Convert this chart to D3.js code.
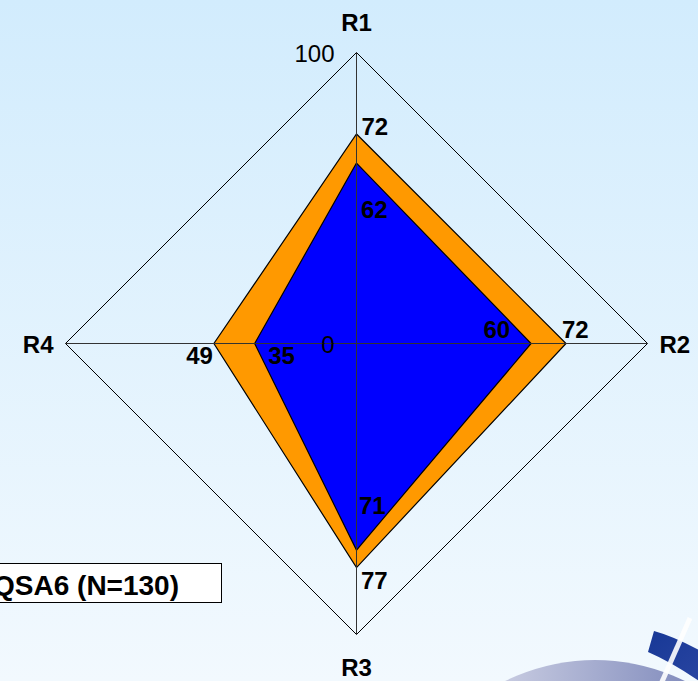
<!DOCTYPE html>
<html>
<head>
<meta charset="utf-8">
<script src="https://cdn.jsdelivr.net/npm/d3@7"></script>
<style>
  html, body { margin: 0; padding: 0; overflow: hidden; }
  svg { display: block; }
</style>
</head>
<body>
<svg id="chart" width="698" height="681"></svg>
<script>
// Radar axes, scale ticks and the two profiles
const axes = ["R1", "R2", "R3", "R4"];
const scaleTicks = [0, 100];
const seriesOuter = [72, 72, 77, 49];   // orange profile
const seriesInner = [62, 60, 71, 35];   // blue profile
const caption = "QSA6 (N=130)";

// Layout
const W = 698, H = 681;
const cx = 356.5, cy = 343.5, R = 291;
const fontFamily = "'Liberation Sans', Arial, Helvetica, sans-serif";

// Label placement per axis: [dx, dy, anchor] from the data point
const outerLabelPos = [[5, 1.5, "start"], [-4, -5.5, "start"], [4.5, 21.5, "start"], [-1, 20.5, "end"]];
const innerLabelPos = [[4.5, 55, "start"], [-21, -5.5, "end"], [2.5, -36, "start"], [13.5, 20.5, "start"]];

const svg = d3.select("#chart");
const defs = svg.append("defs");

const bg = defs.append("linearGradient").attr("id", "bg").attr("x1", 0).attr("y1", 0).attr("x2", 0).attr("y2", 1);
bg.append("stop").attr("offset", "0%").attr("stop-color", "#d2ecfd");
bg.append("stop").attr("offset", "100%").attr("stop-color", "#f2f9fe");

const disc = defs.append("linearGradient").attr("id", "disc").attr("x1", 0).attr("y1", 0).attr("x2", 1).attr("y2", 0);
disc.append("stop").attr("offset", "0%").attr("stop-color", "#f0f0f6");
disc.append("stop").attr("offset", "100%").attr("stop-color", "#5a68a8");

const band = defs.append("linearGradient").attr("id", "band").attr("x1", 0).attr("y1", 0).attr("x2", 1).attr("y2", 1);
band.append("stop").attr("offset", "0%").attr("stop-color", "#173896");
band.append("stop").attr("offset", "100%").attr("stop-color", "#2e48a4");

svg.append("rect").attr("width", W).attr("height", H).attr("fill", "url(#bg)");

// Corner emblem
const emblem = svg.append("g");
emblem.append("circle").attr("cx", 595).attr("cy", 863).attr("r", 203).attr("fill", "url(#disc)");
emblem.append("path")
  .attr("d", "M654,631 Q680,638 720,662 L712,690 Q676,664 648,652 Z")
  .attr("fill", "url(#band)");
emblem.append("line")
  .attr("x1", 690).attr("y1", 618).attr("x2", 661).attr("y2", 684)
  .attr("stroke", "#ffffff").attr("stroke-width", 5).attr("opacity", 0.9);

// Scales
const r = d3.scaleLinear().domain([0, 100]).range([0, R]);
const angle = d3.scalePoint().domain(axes).range([0, 2 * Math.PI * (axes.length - 1) / axes.length]);
const pt = (axis, v) => {
  const a = angle(axis);
  return [cx + r(v) * Math.sin(a), cy - r(v) * Math.cos(a)];
};

const lineGen = d3.line().curve(d3.curveLinearClosed);

// Outer grid at the maximum tick
svg.append("path")
  .attr("d", lineGen(axes.map(a => pt(a, d3.max(scaleTicks)))))
  .attr("fill", "none").attr("stroke", "#000").attr("stroke-width", 1);

// Profiles
const drawSeries = (vals, color) => {
  svg.append("path")
    .attr("d", lineGen(axes.map((a, i) => pt(a, vals[i]))))
    .attr("fill", color).attr("stroke", "#000").attr("stroke-width", 1.2)
    .attr("stroke-linejoin", "miter");
};
drawSeries(seriesOuter, "#ff9900");
drawSeries(seriesInner, "#0000ff");

// Spokes
svg.append("g").selectAll("line").data(axes).join("line")
  .attr("x1", cx).attr("y1", cy)
  .attr("x2", d => pt(d, 100)[0]).attr("y2", d => pt(d, 100)[1])
  .attr("stroke", "#333").attr("stroke-width", 1);

// Axis names
const nameOffsets = { R1: [0, -22, "middle"], R2: [12, 9, "start"], R3: [0, 41, "middle"], R4: [-12, 9, "end"] };
svg.append("g").selectAll("text").data(axes).join("text")
  .attr("x", d => pt(d, 100)[0] + nameOffsets[d][0])
  .attr("y", d => pt(d, 100)[1] + nameOffsets[d][1])
  .attr("text-anchor", d => nameOffsets[d][2])
  .attr("font-family", fontFamily).attr("font-size", 24).attr("font-weight", "bold")
  .attr("fill", "#000")
  .text(d => d);

// Scale tick labels along the first spoke
svg.append("g").selectAll("text").data(scaleTicks).join("text")
  .attr("x", cx - 22)
  .attr("y", d => cy - r(d) + 9.5)
  .attr("text-anchor", "end")
  .attr("font-family", fontFamily).attr("font-size", 24)
  .attr("fill", "#000")
  .text(d => d);

// Value labels
const drawLabels = (vals, pos) => {
  svg.append("g").selectAll("text").data(vals).join("text")
    .attr("x", (d, i) => pt(axes[i], d)[0] + pos[i][0])
    .attr("y", (d, i) => pt(axes[i], d)[1] + pos[i][1])
    .attr("text-anchor", (d, i) => pos[i][2])
    .attr("font-family", fontFamily).attr("font-size", 24).attr("font-weight", "bold")
    .attr("fill", "#000")
    .text(d => d);
};
drawLabels(seriesOuter, outerLabelPos);
drawLabels(seriesInner, innerLabelPos);

// Caption box
svg.append("rect")
  .attr("x", -20.5).attr("y", 563.5).attr("width", 242).attr("height", 39)
  .attr("fill", "#fff").attr("stroke", "#000").attr("stroke-width", 1);
svg.append("text")
  .attr("x", 179).attr("y", 595)
  .attr("text-anchor", "end")
  .attr("font-family", fontFamily).attr("font-size", 28).attr("font-weight", "bold")
  .attr("fill", "#000")
  .text(caption);
</script>
</body>
</html>
